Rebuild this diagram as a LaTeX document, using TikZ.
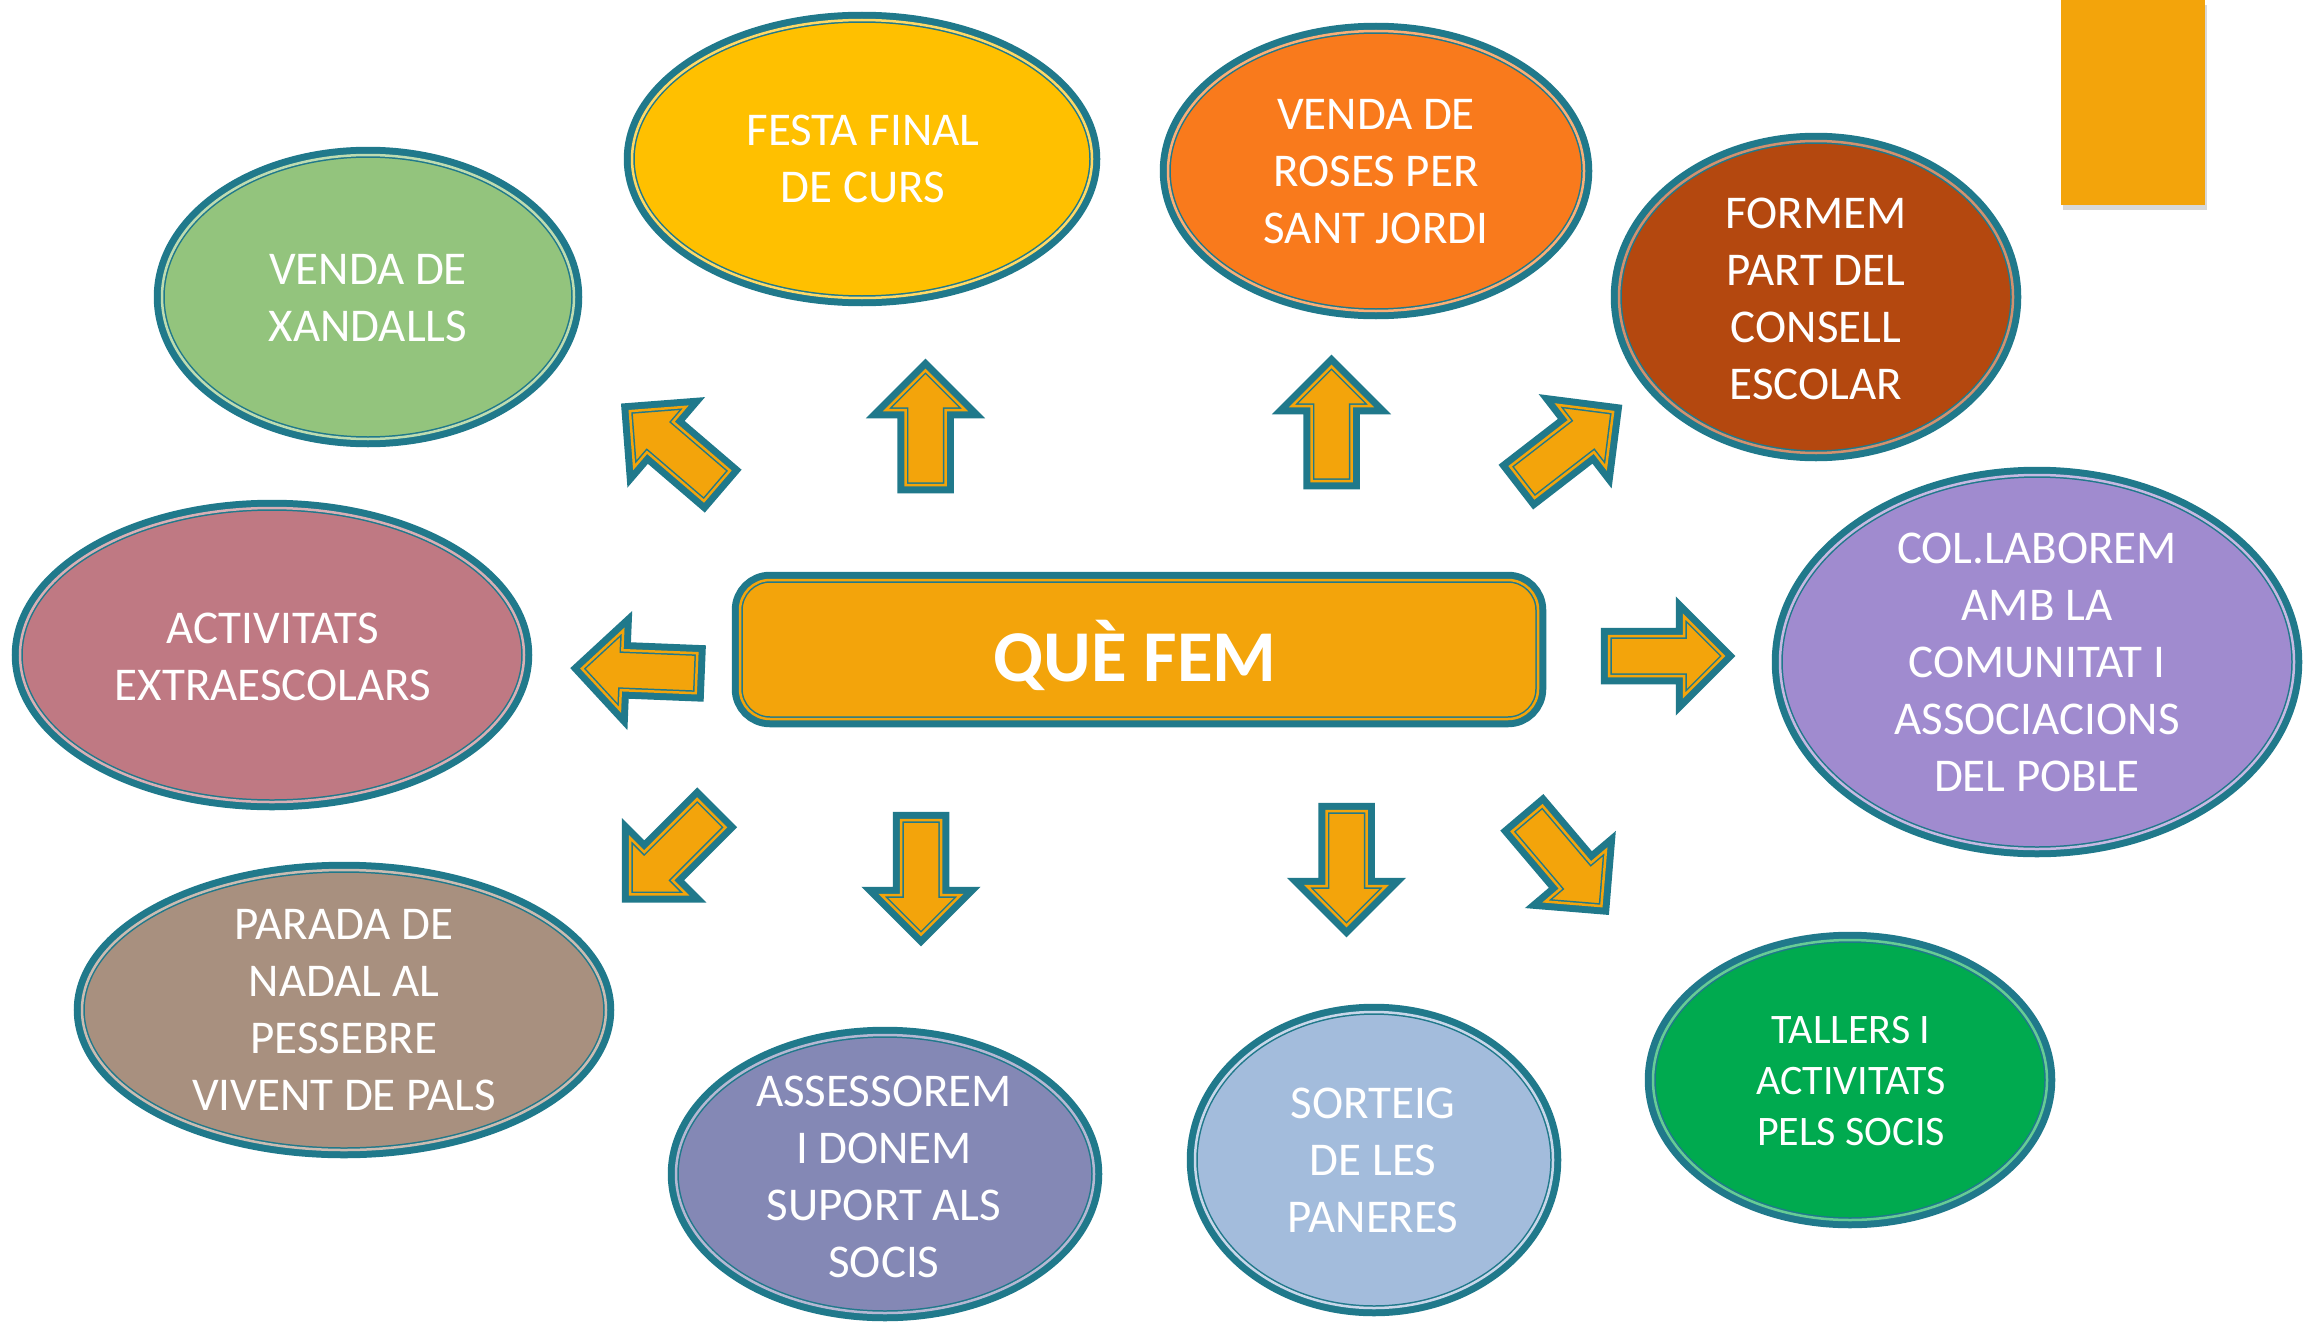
\documentclass[tikz,border=0pt]{standalone}
\usepackage{fontspec}
\setmainfont{Carlito}
\usepackage{tikz}
\usetikzlibrary{shapes,shadows}

\definecolor{rim}{HTML}{20798B}
\definecolor{amber}{HTML}{F3A40B}
\definecolor{leaf}{HTML}{93C47D}
\definecolor{sun}{HTML}{FFC000}
\definecolor{tangerine}{HTML}{F97A1C}
\definecolor{rust}{HTML}{B4480F}
\definecolor{lilac}{HTML}{A08BCF}
\definecolor{rosewood}{HTML}{BF7983}
\definecolor{taupe}{HTML}{A8907F}
\definecolor{slate}{HTML}{8488B5}
\definecolor{sky}{HTML}{A3BCDC}
\definecolor{grass}{HTML}{00AA4F}

\begin{document}
\begin{tikzpicture}[
			x = 1pt, y = -1pt, % pixel grid, y runs down
			rimline/.style = {preaction = {draw = rim, line width = 16.5pt}}, % thick outer rim
			bubble/.style = {
				ellipse, fill = #1, inner sep = 0pt, rimline,
				postaction = {draw = rim, line width = 1.5pt, double = #1!60!white, double distance = 2.5pt}
			},
			panel/.style = {
				rectangle, rounded corners = 30pt, fill = amber, rimline,
				postaction = {draw = rim, line width = 1.5pt, double = amber, double distance = 2.5pt}
			},
			txt/.style = {text = white, align = center, font = \fontsize{47}{57}\selectfont},
			arrowbody/.style = {
				fill = amber, rimline,
				postaction = {draw = rim, line width = 1.5pt, double = amber, double distance = 2.5pt}
			},
			blockarrow/.pic = {
				\path[arrowbody] (8,-20) -- (83,-20) -- (83,-39.7) -- (122.7,0) -- (83,39.7) -- (83,20) -- (8,20) -- cycle;
			}
		]
		
		\useasboundingbox (0,0) rectangle (2318,1322);
		\fill[white] (0,0) rectangle (2318,1322);
		
		% corner tab
		\fill[amber, drop shadow = {shadow xshift = 2pt, shadow yshift = -5pt, opacity = .3}] (2061,0) rectangle (2205,205);
		
		% centre
		\node[panel, minimum width = 798pt, minimum height = 139pt] (panel) at (1139,649.5) {};
		\node[text = white, font = \bfseries\fontsize{73}{80}\selectfont] (quefem) at (1135,655) {QUÈ FEM};
		
		% bubbles
		\node[bubble = leaf, minimum width = 412pt, minimum height = 284pt] (xandalls) at (368,297) {};
		\node[txt] (xandallstext) at (368,298) {VENDA DE\\XANDALLS};
		
		\node[bubble = sun, minimum width = 460pt, minimum height = 278pt] (festa) at (862,159) {};
		\node[txt] (festatext) at (863,159) {FESTA FINAL\\DE CURS};
		
		\node[bubble = tangerine, minimum width = 416pt, minimum height = 280pt] (roses) at (1376,171) {};
		\node[txt] (rosestext) at (1376,172) {VENDA DE\\ROSES PER\\SANT JORDI};
		
		\node[bubble = rust, minimum width = 394pt, minimum height = 312pt] (consell) at (1816,297) {};
		\node[txt] (conselltext) at (1816,299) {FORMEM\\PART DEL\\CONSELL\\ESCOLAR};
		
		\node[bubble = lilac, minimum width = 514pt, minimum height = 374pt] (comunitat) at (2037,662) {};
		\node[txt] (comunitattext) at (2037,662) {COL.LABOREM\\AMB LA\\COMUNITAT I\\ASSOCIACIONS\\DEL POBLE};
		
		\node[bubble = rosewood, minimum width = 504pt, minimum height = 294pt] (extraescolars) at (272,655) {};
		\node[txt] (extraescolarstext) at (273,657) {ACTIVITATS\\EXTRAESCOLARS};
		
		\node[bubble = taupe, minimum width = 524pt, minimum height = 280pt] (pessebre) at (344,1010) {};
		\node[txt] (pessebretext) at (344,1010) {PARADA DE\\NADAL AL\\PESSEBRE\\VIVENT DE PALS};
		
		\node[bubble = slate, minimum width = 418pt, minimum height = 278pt] (socis) at (885,1174) {};
		\node[txt] (socistext) at (884,1177) {ASSESSOREM\\I DONEM\\SUPORT ALS\\SOCIS};
		
		\node[bubble = sky, minimum width = 358pt, minimum height = 296pt] (paneres) at (1374,1160) {};
		\node[txt] (panerestext) at (1373,1160) {SORTEIG\\DE LES\\PANERES};
		
		\node[bubble = grass, minimum width = 394pt, minimum height = 280pt] (tallers) at (1850,1080) {};
		\node[txt, font = \fontsize{42}{51}\selectfont] (tallerstext) at (1851,1081) {TALLERS I\\ACTIVITATS\\PELS SOCIS};
		
		% arrows out of the centre
		\pic[rotate = 139.4] (upleft) at (723,491) {blockarrow};
		\pic[rotate = 90] (upone) at (925.5,493) {blockarrow};
		\pic[rotate = 90] (uptwo) at (1331.5,489) {blockarrow};
		\pic[rotate = 37.7] (upright) at (1516,487) {blockarrow};
		\pic[rotate = 0] (right) at (1601,656) {blockarrow};
		\pic[rotate = 177.7] (left) at (704.5,673.5) {blockarrow};
		\pic[rotate = 225] (downleft) at (717,807.5) {blockarrow};
		\pic[rotate = -90] (downone) at (921,812) {blockarrow};
		\pic[rotate = -90] (downtwo) at (1346.5,803) {blockarrow};
		\pic[rotate = -49.7] (downright) at (1522,812.5) {blockarrow};
\end{tikzpicture}
\end{document}
